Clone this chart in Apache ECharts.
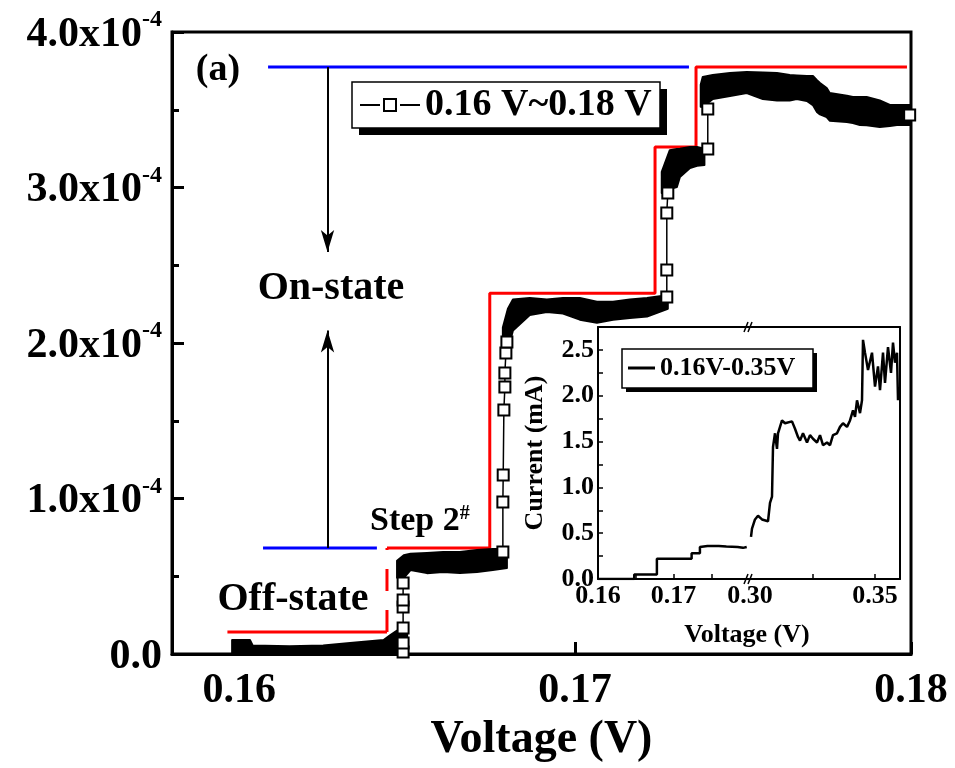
<!DOCTYPE html>
<html><head><meta charset="utf-8">
<script src="https://cdn.jsdelivr.net/npm/echarts@6/dist/echarts.min.js"></script>
<style>html,body{margin:0;padding:0;background:#fff}#c{width:955px;height:768px}</style>
</head><body><div id="c"></div>
<script>
// ---------------- Main chart data: voltage (V), current in units of 1e-4 A ----------------
const mainName = '0.16 V~0.18 V';
const xTicks = [0.16, 0.17, 0.18];
const yTicks = [0, 1, 2, 3, 4];

// dense measured band (drawn as envelope of overlapping markers): segment id, V, lower, upper
const bandSeg = [0,0,0,0,0,0,0,0,0,0,
                 1,1,1,1,1,1,1,1,1,
                 2,2,2,2,2,2,2,2,2,2,2,2,2,
                 3,3,3,3,3,3,3,
                 4,4,4,4,4,4,4,4,4,4,4,4,4,4,4,4,4,4,4,4,4,4,4];
const bandV = [0.15979,0.16032,0.16040,0.1615,0.1625,0.1633,0.1643,0.16449,0.1647,0.1650,
               0.16470,0.16490,0.16510,0.16559,0.16607,0.16657,0.16708,0.16755,0.16797,
               0.16785,0.16800,0.16815,0.16865,0.16916,0.16964,0.17014,0.17065,0.17113,0.17163,0.17214,0.17252,0.17276,
               0.17258,0.17282,0.17303,0.17312,0.17342,0.17363,0.17385,
               0.17374,0.1738,0.1741,0.17461,0.17511,0.17559,0.17601,0.17639,0.1766,0.1769,0.17708,0.1772,0.17729,0.17749,0.17758,0.17809,0.17827,0.17848,0.17868,0.17907,0.17937,0.17958,0.18];
const bandLo = [0,0,0,0,0,0,0,0,0,0,
                0.49,0.49,0.54,0.52,0.527,0.521,0.527,0.54,0.553,
                1.96,1.96,2.08,2.18,2.20,2.19,2.15,2.13,2.15,2.16,2.17,2.20,2.22,
                2.965,2.99,3.003,3.068,3.125,3.14,3.145,
                3.52,3.518,3.569,3.588,3.608,3.569,3.56,3.56,3.569,3.556,3.53,3.486,3.47,3.453,3.43,3.421,3.415,3.402,3.40,3.389,3.395,3.402,3.402];
const bandHi = [0.09,0.09,0.055,0.05,0.055,0.07,0.09,0.12,0.15,0.15,
                0.60,0.635,0.645,0.65,0.656,0.656,0.669,0.675,0.675,
                2.10,2.22,2.28,2.29,2.28,2.29,2.29,2.265,2.265,2.28,2.29,2.30,2.30,
                3.10,3.24,3.248,3.25,3.26,3.26,3.25,
                3.66,3.711,3.723,3.736,3.743,3.74,3.736,3.723,3.72,3.717,3.717,3.69,3.672,3.64,3.608,3.59,3.582,3.582,3.582,3.56,3.531,3.531,3.531];

// individually visible square markers at the switching steps
const sqGroup = [0,0,0,0,0,0, 1,1,1,1,1,1,1,1, 2,2,2,2, 3,3, 4];
const sqV = [0.16488,0.16488,0.16488,0.16488,0.16488,0.16488,
             0.16785,0.16785,0.16786,0.16788,0.16791,0.16791,0.16794,0.16797,
             0.17273,0.17273,0.17273,0.17276,
             0.17395,0.17395,
             0.17996];
const sqI = [0.013,0.07,0.167,0.302,0.347,0.457,
             0.656,0.977,1.151,1.569,1.717,1.807,1.936,2.006,
             2.296,2.469,2.836,2.965,
             3.248,3.505,
             3.466];

// red reference step (segment 1->2 dashed)
const stepV = [0.15965,0.1644,0.1644,0.16746,0.16746,0.17238,0.17238,0.1736,0.1736,0.17988];
const stepI = [0.1415,0.1415,0.682,0.682,2.32,2.32,3.26,3.26,3.775,3.775];
// blue on/off levels
const blueLowV = [0.16071,0.1641];  const blueLowI = [0.682,0.682];
const blueHighV = [0.16086,0.17339]; const blueHighI = [3.775,3.775];
// arrows
const arrowV = 0.16263;
const arrowDown = [3.775, 2.585];
const arrowUp = [0.682, 2.08];

// ---------------- Inset data: voltage (V), current (mA) ----------------
const insetName = '0.16V-0.35V';
const insetLeftV = [0.16,0.1648,0.1648,0.1678,0.1678,0.1724,0.1724,0.1735,0.1735,0.1745,0.176,0.177,0.1785,0.1792,0.1797];
const insetLeftI = [0,0,0.05,0.05,0.22,0.22,0.28,0.28,0.35,0.36,0.36,0.355,0.35,0.34,0.35];
const insetRightV = [0.3004,0.3008,0.302,0.3032,0.3048,0.3072,0.308,0.3088,0.3092,0.31,0.3108,0.3112,0.3128,0.314,0.3168,0.318,0.3192,0.32,0.3212,0.3228,0.324,0.3252,0.3268,0.328,0.3292,0.3308,0.332,0.3332,0.3348,0.336,0.3372,0.3388,0.34,0.3412,0.342,0.3428,0.344,0.3448,0.3452,0.346,0.3472,0.3488,0.35,0.3512,0.352,0.3532,0.354,0.3552,0.3564,0.3572,0.358,0.3588,0.3592];
const insetRightI = [0.46,0.55,0.65,0.69,0.65,0.63,0.83,0.9,1.44,1.59,1.42,1.59,1.73,1.7,1.72,1.64,1.55,1.51,1.59,1.49,1.57,1.53,1.49,1.57,1.46,1.49,1.46,1.57,1.59,1.66,1.70,1.66,1.73,1.84,1.77,1.95,1.81,1.95,2.61,2.47,2.28,2.47,2.1,2.32,2.06,2.47,2.14,2.53,2.25,2.58,2.36,2.47,1.95];
const insetYLabels = [0,0.5,1.0,1.5,2.0,2.5];
const insetYTicks = [0,0.25,0.5,0.75,1.0,1.25,1.5,1.75,2.0,2.25,2.5,2.75];
const insetLeftLabels = [0.16,0.17];
const insetLeftTicks = [0.165,0.17,0.175];
const insetRightLabels = [0.30,0.35];
const insetRightTicks = [0.325,0.35];

// ---------------- chart ----------------
const FF = 'Liberation Serif';
const chart = echarts.init(document.getElementById('c'), null, {renderer:'canvas'});
const pairs = (xs, ys) => xs.map((x,i)=>[x, ys[i]]);
const series = [];

// band
const segs = [...new Set(bandSeg)];
series.push({
  type:'custom', xAxisIndex:0, yAxisIndex:0, clip:true, silent:true, z:3,
  data: segs.map(s => { const i = bandSeg.indexOf(s); return [bandV[i], bandLo[i]]; }),
  renderItem: (params, api) => {
    const s = segs[params.dataIndex];
    const idx = bandSeg.map((g,i)=>g===s?i:-1).filter(i=>i>=0);
    const top = idx.map(i=>api.coord([bandV[i], bandHi[i]]));
    const bot = idx.slice().reverse().map(i=>api.coord([bandV[i], bandLo[i]]));
    return {type:'polygon', shape:{points: top.concat(bot)}, style:{fill:'#000', stroke:'#000', lineWidth:2, lineJoin:'round'}};
  }
});
// squares
[...new Set(sqGroup)].forEach(g => {
  series.push({
    type:'line', name: mainName, xAxisIndex:0, yAxisIndex:0, z:5,
    data: sqV.map((v,i)=>[v, sqI[i]]).filter((_,i)=>sqGroup[i]===g),
    symbol:'rect', symbolSize:11, showSymbol:true,
    itemStyle:{color:'#fff', borderColor:'#000', borderWidth:2},
    lineStyle:{color:'#000', width:1.5},
    emphasis:{disabled:true}
  });
});
// red step
const redStyle = {color:'#ff0000', width:3};
series.push({type:'line', xAxisIndex:0, yAxisIndex:0, z:2, symbol:'none', silent:true, lineStyle:redStyle,
  data: pairs(stepV.slice(0,2), stepI.slice(0,2))});
series.push({type:'line', xAxisIndex:0, yAxisIndex:0, z:2, symbol:'none', silent:true,
  lineStyle:{color:'#ff0000', width:3, type:[22,19]},
  data: pairs(stepV.slice(1,3), stepI.slice(1,3))});
series.push({type:'line', xAxisIndex:0, yAxisIndex:0, z:2, symbol:'none', silent:true, lineStyle:redStyle,
  data: pairs(stepV.slice(2), stepI.slice(2))});
// blue
series.push({type:'line', xAxisIndex:0, yAxisIndex:0, z:2, symbol:'none', silent:true,
  lineStyle:{color:'#0000ff', width:3}, data: pairs(blueLowV, blueLowI)});
series.push({type:'line', xAxisIndex:0, yAxisIndex:0, z:2, symbol:'none', silent:true,
  lineStyle:{color:'#0000ff', width:3}, data: pairs(blueHighV, blueHighI),
  markLine:{silent:true, animation:false, symbol:['none','arrow'], symbolSize:[10,22],
    label:{show:false}, lineStyle:{color:'#000', width:2, type:'solid'},
    data:[[{coord:[arrowV, arrowDown[0]]},{coord:[arrowV, arrowDown[1]]}],
          [{coord:[arrowV, arrowUp[0]]},{coord:[arrowV, arrowUp[1]]}]]}});
// inset
series.push({type:'line', name: insetName, xAxisIndex:1, yAxisIndex:1, symbol:'none', z:6,
  lineStyle:{color:'#000', width:2.5}, data: pairs(insetLeftV, insetLeftI)});
series.push({type:'line', name: insetName, xAxisIndex:3, yAxisIndex:2, symbol:'none', z:6,
  lineStyle:{color:'#000', width:2.5}, data: pairs(insetRightV, insetRightI)});

const insetFont = {fontFamily:FF, fontWeight:'bold', fontSize:26, color:'#000'};
const legendIconMain = 'path://M0 6L20 6L20 8L0 8Z M23 0L23 14L37 14L37 0Z M25 2L35 2L35 12L25 12Z M40 6L60 6L60 8L40 8Z';
const option = {
  animation:false,
  backgroundColor:'#fff',
  grid:[
    {left:172, right:44, top:32, bottom:114, show:true, borderColor:'#000', borderWidth:3, backgroundColor:'transparent', outerBoundsMode:'none', containLabel:false},
    {left:598, width:151, top:327, height:252, show:true, borderWidth:0, backgroundColor:'#fff', outerBoundsMode:'none', containLabel:false},
    {left:750, width:150, top:327, height:252, show:true, borderWidth:0, backgroundColor:'#fff', outerBoundsMode:'none', containLabel:false}
  ],
  xAxis:[
    {gridIndex:0, type:'value', min:0.158, max:0.18,
      axisLine:{lineStyle:{color:'#000', width:3}},
      axisTick:{customValues:xTicks, inside:true, length:12, lineStyle:{color:'#000', width:3}},
      axisLabel:{customValues:xTicks, formatter:v=>v.toFixed(2), margin:16, fontFamily:FF, fontWeight:'bold', fontSize:42, color:'#000'},
      splitLine:{show:false},
      name:'Voltage (V)', nameLocation:'middle', nameGap:60,
      nameTextStyle:{fontFamily:FF, fontWeight:'bold', fontSize:46, color:'#000'}},
    {gridIndex:1, type:'value', min:0.16, max:0.18,
      axisLine:{lineStyle:{color:'#000', width:2}},
      axisTick:{customValues:insetLeftTicks, inside:true, length:5, lineStyle:{color:'#000', width:1.5}},
      axisLabel:{customValues:insetLeftLabels, formatter:v=>v.toFixed(2), margin:4, ...insetFont},
      splitLine:{show:false}},
    {gridIndex:1, type:'value', min:0.16, max:0.18, position:'top',
      axisLine:{lineStyle:{color:'#000', width:2}}, axisTick:{show:false}, axisLabel:{show:false}, splitLine:{show:false}},
    {gridIndex:2, type:'value', min:0.30, max:0.36,
      axisLine:{lineStyle:{color:'#000', width:2}},
      axisTick:{customValues:insetRightTicks, inside:true, length:5, lineStyle:{color:'#000', width:1.5}},
      axisLabel:{customValues:insetRightLabels, formatter:v=>v.toFixed(2), margin:4, ...insetFont},
      splitLine:{show:false}},
    {gridIndex:2, type:'value', min:0.30, max:0.36, position:'top',
      axisLine:{lineStyle:{color:'#000', width:2}}, axisTick:{show:false}, axisLabel:{show:false}, splitLine:{show:false}}
  ],
  yAxis:[
    {gridIndex:0, type:'value', min:0, max:4, interval:1,
      axisLine:{show:true, lineStyle:{color:'#000', width:3}},
      axisTick:{inside:true, length:12, lineStyle:{color:'#000', width:3}},
      minorTick:{show:true, splitNumber:2, length:7, lineStyle:{color:'#000', width:3}},
      splitLine:{show:false}, minorSplitLine:{show:false},
      axisLabel:{margin:10, formatter: v => v===0 ? '{a|0.0}' : '{a|'+v.toFixed(1)+'x10}{b|-4}',
        rich:{a:{fontFamily:FF, fontWeight:'bold', fontSize:42, color:'#000', padding:[6,0,0,0]},
              b:{fontFamily:FF, fontWeight:'bold', fontSize:24, color:'#000', verticalAlign:'top'}}}},
    {gridIndex:1, type:'value', min:0, max:2.75,
      axisLine:{show:true, lineStyle:{color:'#000', width:2}},
      axisTick:{customValues:insetYTicks, inside:true, length:5, lineStyle:{color:'#000', width:1.5}},
      axisLabel:{customValues:insetYLabels, formatter:v=>v.toFixed(1), margin:4, ...insetFont},
      splitLine:{show:false},
      name:'Current (mA)', nameLocation:'middle', nameGap:50, nameRotate:90,
      nameTextStyle:insetFont},
    {gridIndex:2, type:'value', min:0, max:2.75, position:'right',
      axisLine:{show:true, lineStyle:{color:'#000', width:2}}, axisTick:{show:false}, axisLabel:{show:false}, splitLine:{show:false}}
  ],
  legend:[
    {data:[{name:mainName, icon:legendIconMain}], left:360, top:86, padding:0, z:10,
      itemWidth:60, itemHeight:14, itemStyle:{color:'#000', borderWidth:0},
      textStyle:{fontFamily:FF, fontWeight:'bold', fontSize:38, color:'#000'}, selectedMode:false},
    {data:[{name:insetName, icon:'rect'}], left:628, top:355, padding:0, z:10,
      itemWidth:27, itemHeight:3, itemStyle:{color:'#000', borderWidth:0},
      textStyle:insetFont, selectedMode:false}
  ],
  graphic:[
    {type:'rect', z:5, shape:{x:359, y:89, width:308, height:46}, style:{fill:'#000'}},
    {type:'rect', z:6, shape:{x:352, y:82, width:308, height:46}, style:{fill:'#fff', stroke:'#000', lineWidth:1.5}},
    {type:'rect', z:7, shape:{x:626, y:353, width:191, height:39}, style:{fill:'#000'}},
    {type:'rect', z:8, shape:{x:622, y:349, width:191, height:39}, style:{fill:'#fff', stroke:'#000', lineWidth:1.5}},
    {type:'text', x:218, y:70, style:{text:'(a)', fontFamily:FF, fontWeight:'bold', fontSize:38, fill:'#000', align:'center', verticalAlign:'middle'}},
    {type:'text', x:331, y:289, style:{text:'On-state', fontFamily:FF, fontWeight:'bold', fontSize:40, fill:'#000', align:'center', verticalAlign:'middle'}},
    {type:'text', x:293, y:600, style:{text:'Off-state', fontFamily:FF, fontWeight:'bold', fontSize:40, fill:'#000', align:'center', verticalAlign:'middle'}},
    {type:'text', x:370, y:521, style:{text:'{a|Step 2}{b|#}', align:'left', verticalAlign:'middle',
      rich:{a:{fontFamily:FF, fontWeight:'bold', fontSize:34, fill:'#000'}, b:{fontFamily:FF, fontWeight:'bold', fontSize:20, fill:'#000', verticalAlign:'top'}}}},
    {type:'text', x:747, y:635, style:{text:'Voltage (V)', fontFamily:FF, fontWeight:'bold', fontSize:26, fill:'#000', align:'center', verticalAlign:'middle'}},
    {type:'line', shape:{x1:744, y1:332, x2:748, y2:322}, style:{stroke:'#000', lineWidth:1.5}, z:100},
    {type:'line', shape:{x1:748, y1:332, x2:752, y2:322}, style:{stroke:'#000', lineWidth:1.5}, z:100},
    {type:'line', shape:{x1:744, y1:584, x2:748, y2:574}, style:{stroke:'#000', lineWidth:1.5}, z:100},
    {type:'line', shape:{x1:748, y1:584, x2:752, y2:574}, style:{stroke:'#000', lineWidth:1.5}, z:100}
  ],
  series
};
chart.setOption(option);
</script>
</body></html>
